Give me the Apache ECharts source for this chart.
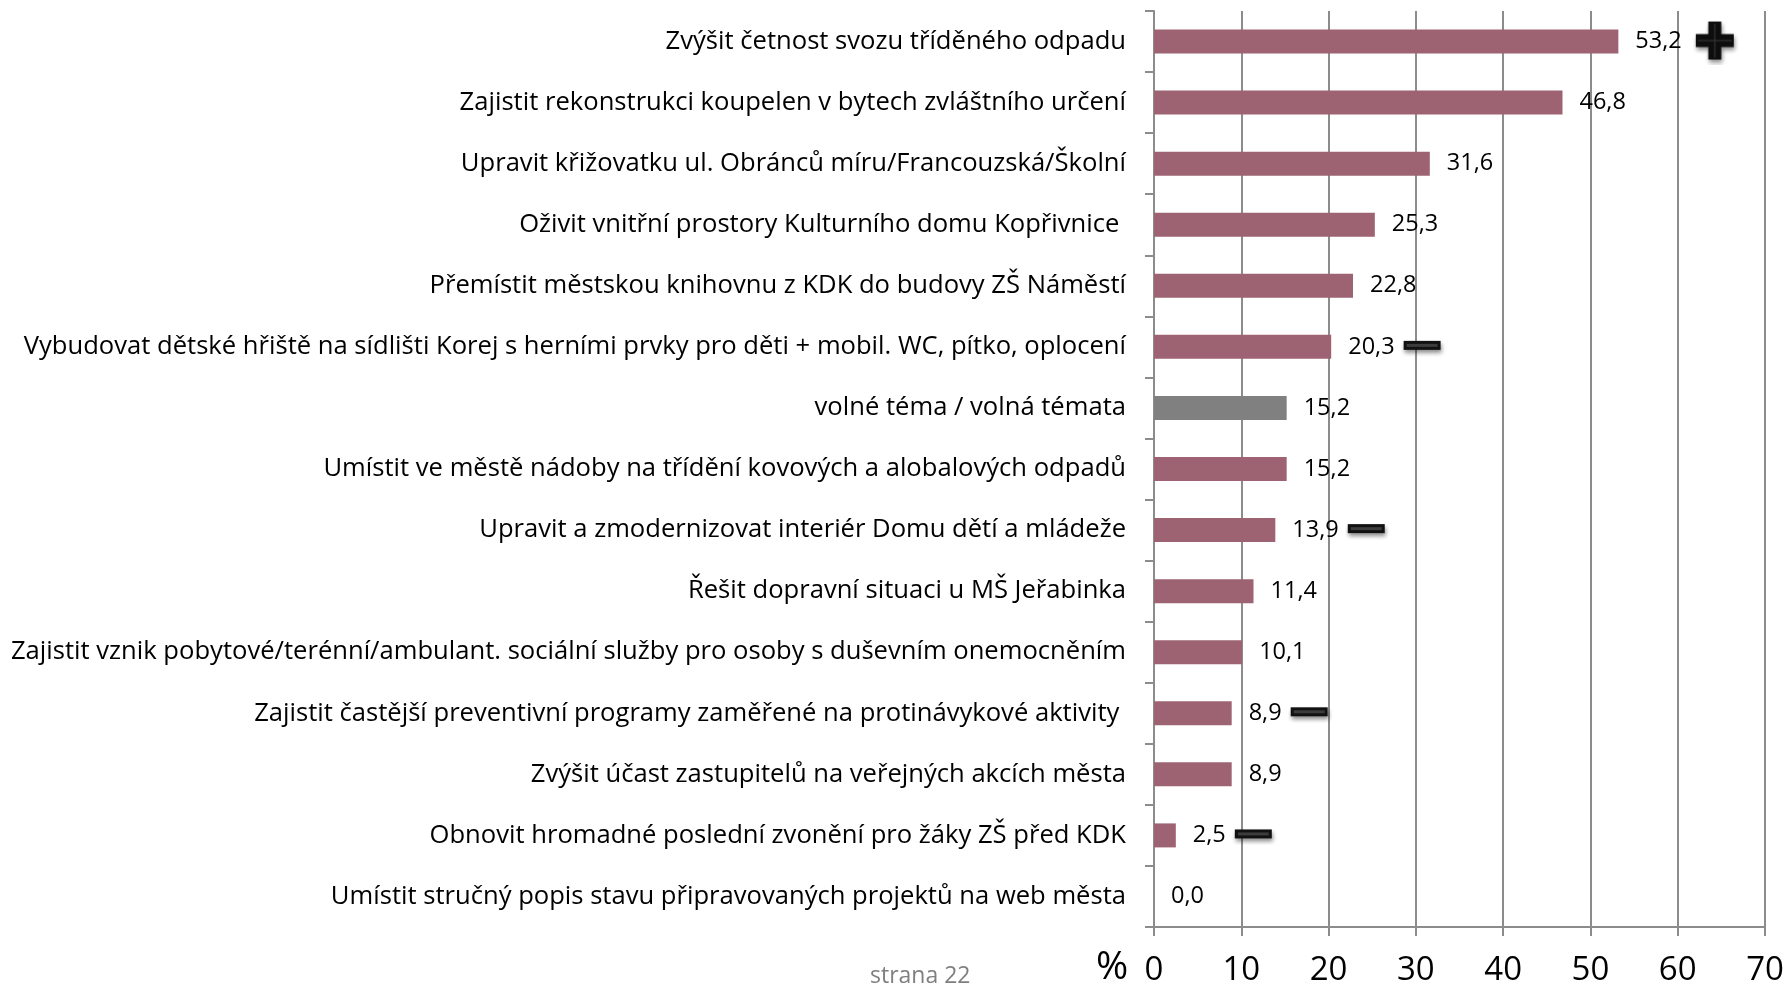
<!DOCTYPE html>
<html>
<head>
<meta charset="utf-8">
<script src="https://cdn.jsdelivr.net/npm/echarts@6/dist/echarts.min.js"></script>
<style>
  html, body { margin: 0; padding: 0; background: #fff; }
  #chart { width: 1789px; height: 988px; }
</style>
</head>
<body>
<div id="chart"></div>
<script>
// data, top to bottom
const categories = [
  'Zvýšit četnost svozu tříděného odpadu',
  'Zajistit rekonstrukci koupelen v bytech zvláštního určení',
  'Upravit křižovatku ul. Obránců míru/Francouzská/Školní',
  'Oživit vnitřní prostory Kulturního domu Kopřivnice ',
  'Přemístit městskou knihovnu z KDK do budovy ZŠ Náměstí',
  'Vybudovat dětské hřiště na sídlišti Korej s herními prvky pro děti + mobil. WC, pítko, oplocení',
  'volné téma / volná témata',
  'Umístit ve městě nádoby na třídění kovových a alobalových odpadů',
  'Upravit a zmodernizovat interiér Domu dětí a mládeže',
  'Řešit dopravní situaci u MŠ Jeřabinka',
  'Zajistit vznik pobytové/terénní/ambulant. sociální služby pro osoby s duševním onemocněním',
  'Zajistit častější preventivní programy zaměřené na protinávykové aktivity ',
  'Zvýšit účast zastupitelů na veřejných akcích města',
  'Obnovit hromadné poslední zvonění pro žáky ZŠ před KDK',
  'Umístit stručný popis stavu připravovaných projektů na web města'
];
const values = [53.2, 46.8, 31.6, 25.3, 22.8, 20.3, 15.2, 15.2, 13.9, 11.4, 10.1, 8.9, 8.9, 2.5, 0.0];
// change markers shown after the value label
const trends = ['up', '', '', '', '', 'down', '', '', 'down', '', '', 'down', '', 'down', ''];
const xTicks = [0, 10, 20, 30, 40, 50, 60, 70];
const freeTopic = 'volné téma / volná témata';

const FONT = '"Open Sans", "Liberation Sans", sans-serif';

// glossy black plus / minus icons, drawn once on small canvases
function makeIcon(kind) {
  const c = document.createElement('canvas');
  const w = kind === 'up' ? 48 : 46;
  const h = kind === 'up' ? 46 : 20;
  c.width = w;
  c.height = h;
  const ctx = c.getContext('2d');
  ctx.shadowColor = 'rgba(0,0,0,0.45)';
  ctx.shadowBlur = 4;
  ctx.shadowOffsetX = 1;
  ctx.shadowOffsetY = 3;
  if (kind === 'up') {
    const x0 = 4, y0 = 3, s = 38, a = 13;
    const m = (s - a) / 2;
    ctx.beginPath();
    ctx.moveTo(x0 + m, y0);
    ctx.lineTo(x0 + m + a, y0);
    ctx.lineTo(x0 + m + a, y0 + m);
    ctx.lineTo(x0 + s, y0 + m);
    ctx.lineTo(x0 + s, y0 + m + a);
    ctx.lineTo(x0 + m + a, y0 + m + a);
    ctx.lineTo(x0 + m + a, y0 + s);
    ctx.lineTo(x0 + m, y0 + s);
    ctx.lineTo(x0 + m, y0 + m + a);
    ctx.lineTo(x0, y0 + m + a);
    ctx.lineTo(x0, y0 + m);
    ctx.lineTo(x0 + m, y0 + m);
    ctx.closePath();
    ctx.fillStyle = '#0d0d0d';
    ctx.fill();
    ctx.shadowColor = 'transparent';
    ctx.strokeStyle = '#3a3a3a';
    ctx.lineWidth = 1;
    ctx.beginPath();
    ctx.moveTo(x0 + m + a / 2, y0 + 2);
    ctx.lineTo(x0 + m + a / 2, y0 + s - 2);
    ctx.moveTo(x0 + 2, y0 + m + a / 2);
    ctx.lineTo(x0 + s - 2, y0 + m + a / 2);
    ctx.stroke();
  } else {
    ctx.fillStyle = '#111';
    ctx.fillRect(3, 4, 37, 9);
    ctx.shadowColor = 'transparent';
    ctx.fillStyle = '#3c3c3c';
    ctx.fillRect(6, 7, 31, 3);
  }
  return c;
}
const upIcon = makeIcon('up');
const downIcon = makeIcon('down');

const fmt = v => v.toFixed(1).replace('.', ',');

const chart = echarts.init(document.getElementById('chart'));

const option = {
  animation: false,
  grid: {
    left: 1154,
    right: 24,
    top: 11,
    bottom: 61,
    containLabel: false
  },
  xAxis: {
    type: 'value',
    min: 0,
    max: 70,
    interval: 10,
    axisLine: { show: true, lineStyle: { color: '#8c8c8c', width: 2 } },
    axisTick: { show: true, length: 9, lineStyle: { color: '#8c8c8c', width: 2 } },
    splitLine: { show: true, lineStyle: { color: '#8c8c8c', width: 2 } },
    axisLabel: {
      margin: 27,
      fontFamily: FONT,
      fontSize: 33,
      color: '#000',
      formatter: v => (xTicks.includes(v) ? String(v) : '')
    }
  },
  yAxis: {
    type: 'category',
    inverse: true,
    data: categories,
    axisLine: { show: true, lineStyle: { color: '#8c8c8c', width: 2 } },
    axisTick: { show: true, length: 9, lineStyle: { color: '#8c8c8c', width: 2 } },
    splitLine: { show: false },
    axisLabel: {
      margin: 28,
      fontFamily: FONT,
      fontSize: 25.6,
      color: '#000'
    }
  },
  graphic: [
    {
      type: 'text',
      left: 1096,
      top: 948,
      style: { text: '%', fontFamily: FONT, fontSize: 39, fill: '#000' }
    },
    {
      type: 'text',
      left: 870,
      top: 965,
      style: { text: 'strana 22', fontFamily: FONT, fontSize: 23, fill: '#7f7f7f' }
    }
  ],
  series: [
    {
      type: 'bar',
      barWidth: 24,
      data: values.map((v, i) => ({
        value: v,
        itemStyle: { color: categories[i] === freeTopic ? '#808080' : '#9e6372' }
      })),
      label: {
        show: true,
        position: 'right',
        distance: 17,
        formatter: p => {
          const t = trends[p.dataIndex];
          const txt = '{v|' + fmt(p.value) + '}';
          if (t === 'up') return txt + '{g1|}{up|}';
          if (t === 'down') return txt + '{g2|}{down|}';
          return txt;
        },
        rich: {
          v: { fontFamily: FONT, fontSize: 23.5, color: '#000' },
          g1: { width: 10, height: 10 },
          g2: { width: 6, height: 10 },
          up: { width: 48, height: 46, backgroundColor: { image: upIcon } },
          down: { width: 46, height: 20, backgroundColor: { image: downIcon } }
        }
      }
    }
  ]
};

chart.setOption(option);
</script>
</body>
</html>
